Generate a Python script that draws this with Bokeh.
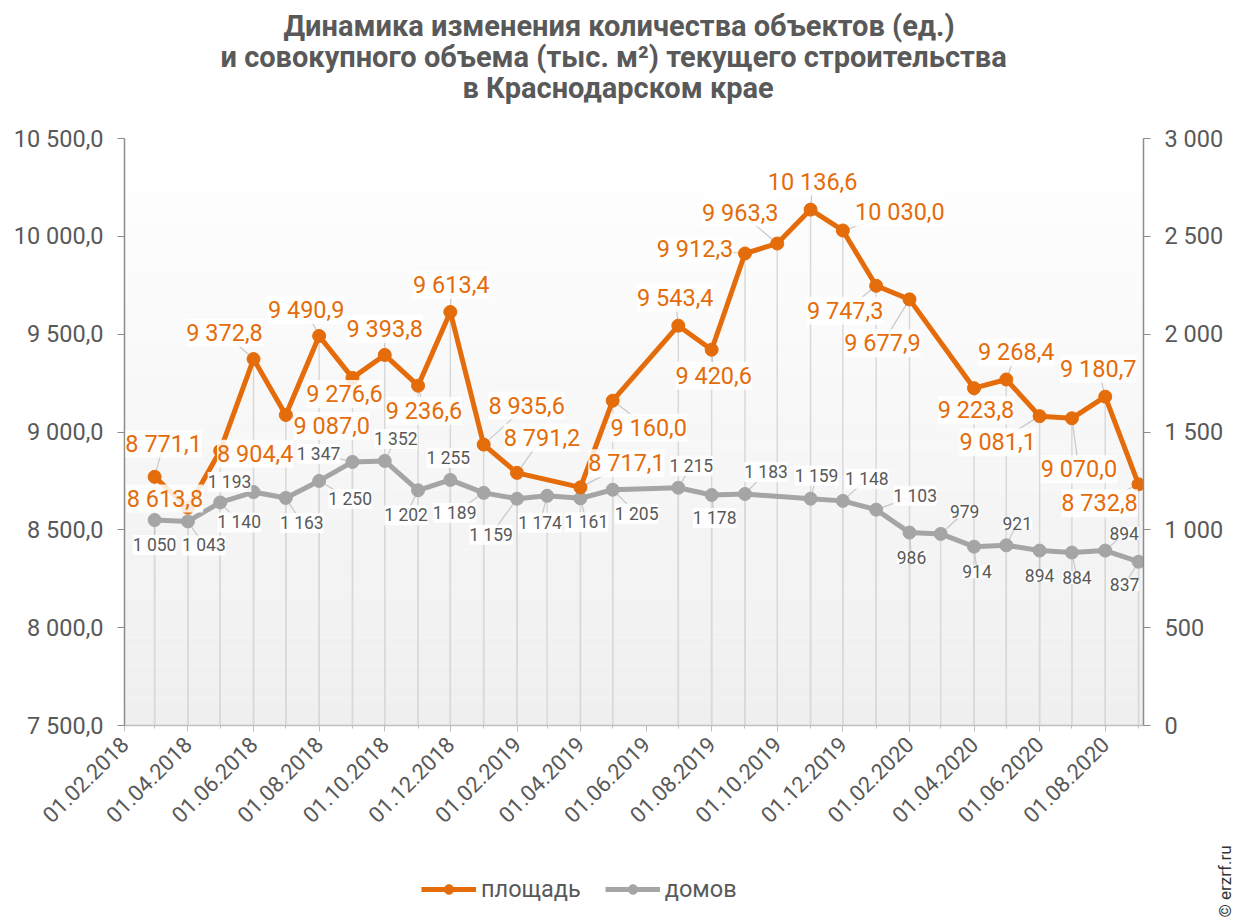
import math
import pandas as pd
from bokeh.plotting import figure
from bokeh.layouts import column
from bokeh.models import (Range1d, LinearAxis, FixedTicker, ColumnDataSource,
                          LabelSet, Label, Legend, LegendItem, BoxAnnotation,
                          DatetimeTickFormatter, Title)
from bokeh.embed import file_html
from bokeh.resources import INLINE
from bokeh.core.properties import value

# ---------------- data ----------------
TITLE_LINES = [
    "Динамика изменения количества объектов (ед.)",
    "и совокупного объема (тыс. м²) текущего строительства",
    "в Краснодарском крае",
]
SERIES_NAMES = ["площадь", "домов"]

AREA_DATES = [
    "01.03.2018", "01.04.2018", "01.05.2018", "01.06.2018", "01.07.2018", "01.08.2018",
    "01.09.2018", "01.10.2018", "01.11.2018", "01.12.2018", "01.01.2019", "01.02.2019",
    "01.04.2019", "01.05.2019", "01.07.2019", "01.08.2019", "01.09.2019", "01.10.2019",
    "01.11.2019", "01.12.2019", "01.01.2020", "01.02.2020", "01.04.2020", "01.05.2020",
    "01.06.2020", "01.07.2020", "01.08.2020", "01.09.2020",
]
AREA_VALUES = [
    8771.1, 8613.8, 8904.4, 9372.8, 9087.0, 9490.9,
    9276.6, 9393.8, 9236.6, 9613.4, 8935.6, 8791.2,
    8717.1, 9160.0, 9543.4, 9420.6, 9912.3, 9963.3,
    10136.6, 10030.0, 9747.3, 9677.9, 9223.8, 9268.4,
    9081.1, 9070.0, 9180.7, 8732.8,
]
HOUSE_DATES = [
    "01.03.2018", "01.04.2018", "01.05.2018", "01.06.2018", "01.07.2018", "01.08.2018",
    "01.09.2018", "01.10.2018", "01.11.2018", "01.12.2018", "01.01.2019", "01.02.2019",
    "01.03.2019", "01.04.2019", "01.05.2019", "01.07.2019", "01.08.2019", "01.09.2019",
    "01.11.2019", "01.12.2019", "01.01.2020", "01.02.2020", "01.03.2020", "01.04.2020",
    "01.05.2020", "01.06.2020", "01.07.2020", "01.08.2020", "01.09.2020",
]
HOUSE_VALUES = [
    1050, 1043, 1140, 1193, 1163, 1250,
    1347, 1352, 1202, 1255, 1189, 1159,
    1174, 1161, 1205, 1215, 1178, 1183,
    1159, 1148, 1103, 986, 979, 914,
    921, 894, 884, 894, 837,
]
X_TICK_LABELS = [
    "01.02.2018", "01.04.2018", "01.06.2018", "01.08.2018", "01.10.2018", "01.12.2018",
    "01.02.2019", "01.04.2019", "01.06.2019", "01.08.2019", "01.10.2019", "01.12.2019",
    "01.02.2020", "01.04.2020", "01.06.2020", "01.08.2020",
]
LEFT_TICKS = [7500, 8000, 8500, 9000, 9500, 10000, 10500]
LEFT_TICK_LABELS = ["7 500,0", "8 000,0", "8 500,0", "9 000,0", "9 500,0", "10 000,0", "10 500,0"]
RIGHT_TICKS = [0, 500, 1000, 1500, 2000, 2500, 3000]
RIGHT_TICK_LABELS = ["0", "500", "1 000", "1 500", "2 000", "2 500", "3 000"]
WATERMARK = "© erzrf.ru"

# ---------------- label placement (pixels, style only) ----------------
AREA_LABEL_DX = [9, -23, 35, -29, 46, -13, -8, 0, 6, 1, 43, 25, 46, 36,
                 -3, 2, -50, -37, 2, 57, -31, -27, 2, 10, -42, 7, -7, -39]
AREA_LABEL_DY = [33, 9, -3, 26, -11, 26, -16, 26, -25, 27, 39, 35, 24, -27,
                 28, -26, 4, 31, 28, 18, -25, -44, -22, 27, -26, -51, 28, -19]
HOUSE_LABEL_DX = [0, 16, 19, -24, 16, 31, -34, 11, -12, -2, -29, -26, -7, 6, 24,
                  13, 3, 21, 6, 24, 39, 2, 24, 3, 11, 0, 5, 19, -14]
HOUSE_LABEL_DY = [-25, -24, -20, 10, -25, -18, 8, 22, -25, 22, -20, -36, -27, -24, -24,
                  22, -23, 22, 23, 22, 14, -25, 22, -25, 22, -25, -25, 17, -23]
TITLE_OFFSETS = [159, 96, 338]

ORANGE = "#E46C0A"
GREY = "#A5A5A5"
TEXT = "#595959"
FONT = "Roboto"

W, H = 1243, 921
STRIP_H = 81                      # bottom strip (legend + watermark)
MAIN_H = H - STRIP_H
ML, MR, MT = 124, 100, 138
MB = MAIN_H - 725
FW, FH = W - ML - MR, MAIN_H - MT - MB


def to_ms(strings):
    d = pd.to_datetime(pd.Series(strings), format="%d.%m.%Y")
    return [int(t.value // 10**6) for t in d]


def fmt_area(v):
    return f"{v:,.1f}".replace(",", " ").replace(".", ",")


def fmt_house(v):
    return f"{v:,d}".replace(",", " ")


area_x = to_ms(AREA_DATES)
house_x = to_ms(HOUSE_DATES)

x_start = to_ms(["01.02.2018"])[0]
x_end = x_start + int(947.6 * 86400000)
ms_per_px = (x_end - x_start) / FW

y_left = (7500, 10500)
y_right = (0, 3000)
upp_left = (y_left[1] - y_left[0]) / FH
upp_right = (y_right[1] - y_right[0]) / FH

area_src = ColumnDataSource(dict(
    x=area_x, y=AREA_VALUES, text=[fmt_area(v) for v in AREA_VALUES],
    dx=AREA_LABEL_DX, dy=AREA_LABEL_DY,
    lx=[x + dx * ms_per_px for x, dx in zip(area_x, AREA_LABEL_DX)],
    ly=[y + dy * upp_left for y, dy in zip(AREA_VALUES, AREA_LABEL_DY)],
))
house_src = ColumnDataSource(dict(
    x=house_x, y=HOUSE_VALUES, text=[fmt_house(v) for v in HOUSE_VALUES],
    dx=HOUSE_LABEL_DX, dy=HOUSE_LABEL_DY,
    lx=[x + dx * ms_per_px for x, dx in zip(house_x, HOUSE_LABEL_DX)],
    ly=[y + dy * upp_right for y, dy in zip(HOUSE_VALUES, HOUSE_LABEL_DY)],
))

p = figure(width=W, height=MAIN_H, x_axis_type="datetime",
           x_range=Range1d(x_start, x_end), y_range=Range1d(*y_left),
           output_backend="svg", toolbar_location=None,
           min_border_left=ML, min_border_right=MR,
           min_border_top=MT, min_border_bottom=MB)
p.extra_y_ranges = {"right": Range1d(*y_right)}
p.xgrid.visible = False
p.ygrid.visible = False
p.outline_line_color = None
p.background_fill_color = "white"
p.border_fill_color = "white"

# background gradient (white at top -> light grey at bottom)
n_bands = 60
span = y_left[1] - y_left[0]
for i in range(n_bands):
    b = y_left[0] + span * i / n_bands
    t = y_left[0] + span * (i + 1) / n_bands
    frac = (i + 0.5) / n_bands
    c = int(round(239 + (255 - 239) * frac))
    p.add_layout(BoxAnnotation(bottom=b, top=t, fill_color=f"#{c:02x}{c:02x}{c:02x}",
                               fill_alpha=1.0, line_alpha=0, level="underlay"))

# drop lines
p.segment(x0="x", y0="y", x1="x", y1=y_right[0], source=house_src, y_range_name="right",
          line_color="#d9d9d9", line_width=1.5)
p.segment(x0="x", y0="y", x1="x", y1=y_left[0], source=area_src,
          line_color="#d9d9d9", line_width=1.5)

# leader lines
p.segment(x0="x", y0="y", x1="lx", y1="ly", source=house_src, y_range_name="right",
          line_color="#c8c8c8", line_width=1.2)
p.segment(x0="x", y0="y", x1="lx", y1="ly", source=area_src,
          line_color="#c8c8c8", line_width=1.2)

p.line("x", "y", source=house_src, y_range_name="right", line_color=GREY, line_width=5)
p.scatter("x", "y", source=house_src, y_range_name="right", size=13,
          fill_color=GREY, line_color=GREY)
p.line("x", "y", source=area_src, line_color=ORANGE, line_width=5)
p.scatter("x", "y", source=area_src, size=13, fill_color=ORANGE, line_color=ORANGE)

p.add_layout(LabelSet(x="x", y="y", text="text", x_offset="dx", y_offset="dy",
                      source=house_src, y_range_name="right",
                      text_align="center", text_baseline="middle",
                      text_font=value(FONT), text_font_size="17.5px", text_color=TEXT,
                      background_fill_color="white", background_fill_alpha=0.85))
p.add_layout(LabelSet(x="x", y="y", text="text", x_offset="dx", y_offset="dy",
                      source=area_src,
                      text_align="center", text_baseline="middle",
                      text_font=value(FONT), text_font_size="23.5px", text_color=ORANGE,
                      background_fill_color="white", background_fill_alpha=0.85))

# axes
xa = p.xaxis[0]
major = to_ms(X_TICK_LABELS)
minor = [int(t.value // 10**6) for t in pd.date_range("2018-02-01", "2020-09-01", freq="MS")]
xa.ticker = FixedTicker(ticks=major, minor_ticks=minor)
xa.formatter = DatetimeTickFormatter(days="%d.%m.%Y", months="%d.%m.%Y", years="%d.%m.%Y")
xa.major_label_overrides = {m: s for m, s in zip(major, X_TICK_LABELS)}
xa.major_label_orientation = math.pi / 4
xa.axis_line_color = "#bfbfbf"
xa.axis_line_width = 1.5
xa.major_tick_line_color = "#bfbfbf"
xa.minor_tick_line_color = "#bfbfbf"
xa.major_tick_out = 6
xa.major_tick_in = 0
xa.minor_tick_out = 3
xa.minor_tick_in = 0
xa.major_label_text_font = FONT
xa.major_label_text_font_size = "22px"
xa.major_label_text_color = TEXT
xa.major_label_standoff = 9

ya = p.yaxis[0]
ya.ticker = FixedTicker(ticks=LEFT_TICKS)
ya.major_label_overrides = {t: s for t, s in zip(LEFT_TICKS, LEFT_TICK_LABELS)}

ra = LinearAxis(y_range_name="right", ticker=FixedTicker(ticks=RIGHT_TICKS))
ra.major_label_overrides = {t: s for t, s in zip(RIGHT_TICKS, RIGHT_TICK_LABELS)}
p.add_layout(ra, "right")

for ax in (ya, ra):
    ax.axis_line_color = "#8c8c8c"
    ax.axis_line_width = 1.5
    ax.major_tick_line_color = "#8c8c8c"
    ax.major_tick_out = 7
    ax.major_tick_in = 0
    ax.minor_tick_line_color = None
    ax.major_label_text_font = FONT
    ax.major_label_text_font_size = "23.5px"
    ax.major_label_text_color = TEXT
    ax.major_label_standoff = 14

# title lines, stacked above the frame (first added = closest to the frame)
p.add_layout(Title(text=" ", text_font_size="26px", standoff=4), "above")
for line, off in reversed(list(zip(TITLE_LINES, TITLE_OFFSETS))):
    p.add_layout(Title(text=line, align="left", offset=off, standoff=-5,
                       text_font=FONT, text_font_style="bold", text_font_size="29px",
                       text_color=TEXT), "above")

# ---------------- bottom strip: legend + watermark ----------------
# same side borders as the main plot, so its frame lines up with the main frame
s = figure(width=W, height=STRIP_H, x_range=Range1d(0, FW), y_range=Range1d(0, STRIP_H),
           output_backend="svg", toolbar_location=None,
           min_border_left=ML, min_border_right=MR, min_border_top=0, min_border_bottom=0,
           x_axis_location=None, y_axis_location=None)
s.xgrid.visible = False
s.ygrid.visible = False
s.outline_line_color = None
s.background_fill_color = "white"
s.border_fill_color = "white"

# legend swatches: the series drawn with the strip's ranges, i.e. far outside its view
lo = s.line(x=area_x, y=AREA_VALUES, line_color=ORANGE, line_width=5)
so = s.scatter(x=area_x, y=AREA_VALUES, size=13, fill_color=ORANGE, line_color=ORANGE)
lg = s.line(x=house_x, y=HOUSE_VALUES, line_color=GREY, line_width=5)
sg = s.scatter(x=house_x, y=HOUSE_VALUES, size=13, fill_color=GREY, line_color=GREY)

legend = Legend(items=[LegendItem(label=SERIES_NAMES[0], renderers=[lo, so]),
                       LegendItem(label=SERIES_NAMES[1], renderers=[lg, sg])],
                orientation="horizontal", location=(421 - ML, 18),
                glyph_width=55, glyph_height=24, label_standoff=5, spacing=24,
                padding=0, margin=0, border_line_alpha=0, background_fill_alpha=0,
                label_text_font=FONT, label_text_font_size="23.5px", label_text_color=TEXT)
s.add_layout(legend, "center")

# watermark in the strip's right side panel (not clipped to the frame)
s.add_layout(Label(x=1224 - (W - MR), y=40, x_units="screen", y_units="screen",
                   text=WATERMARK, angle=math.pi / 2, text_align="center",
                   text_baseline="middle", text_font=FONT, text_font_size="17px",
                   text_color="#333333"), "right")

layout = column(p, s, spacing=0)
open("out.html", "w").write(file_html(layout, INLINE))
